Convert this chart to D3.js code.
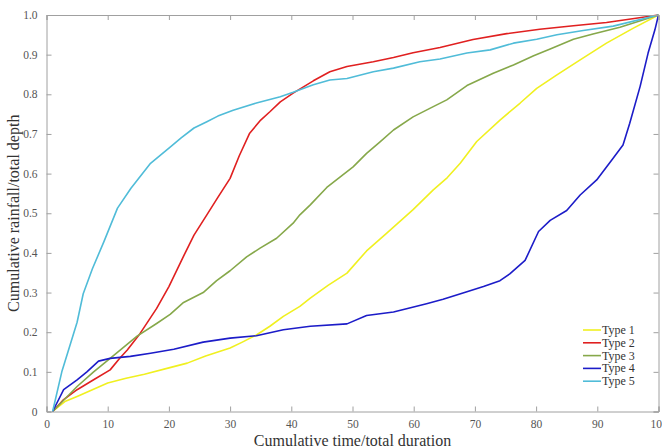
<!DOCTYPE html>
<html>
<head>
<meta charset="utf-8">
<script src="https://cdn.jsdelivr.net/npm/d3@7"></script>
<style>
  html, body { margin: 0; padding: 0; background: #fff; }
  svg { display: block; }
</style>
</head>
<body>
<svg id="chart" width="662" height="448"></svg>
<script>
const seriesNames = ["Type 1", "Type 2", "Type 3", "Type 4", "Type 5"];
const seriesColors = ["#f0f020", "#e02020", "#86a84a", "#1c1cc8", "#50bcd8"];

const type1 = [[1,0],[3,0.025],[5,0.038],[7.5,0.055],[10,0.072],[13,0.084],[16,0.094],[20,0.11],[23,0.122],[26,0.14],[30,0.16],[32,0.175],[34.3,0.193],[36.5,0.215],[38.7,0.24],[41.4,0.265],[43.1,0.286],[46,0.318],[49.1,0.349],[52.3,0.405],[55.6,0.45],[59.9,0.509],[63.2,0.559],[65.5,0.59],[67.6,0.626],[70.3,0.681],[74.1,0.735],[77.4,0.778],[80.1,0.815],[83.4,0.849],[87.2,0.887],[91.5,0.929],[95.9,0.967],[100,1]];
const type2 = [[1,0],[2.8,0.03],[5,0.055],[7.7,0.08],[10.4,0.105],[12,0.135],[13.2,0.155],[15.3,0.197],[18,0.26],[20,0.315],[22.5,0.395],[24.1,0.445],[26.2,0.496],[28,0.54],[30,0.588],[31.5,0.645],[33.2,0.702],[35,0.735],[36.5,0.756],[38.2,0.781],[40.3,0.803],[43.6,0.834],[46.3,0.857],[49.1,0.87],[53.4,0.882],[56.7,0.893],[59.9,0.905],[64.3,0.918],[69.7,0.938],[75.2,0.953],[80.6,0.964],[86.1,0.973],[91.5,0.981],[100,1]];
const type3 = [[1,0],[5,0.063],[7.7,0.1],[10.4,0.134],[14.8,0.19],[18,0.222],[20.2,0.245],[22.4,0.275],[25.6,0.3],[27.8,0.33],[30,0.355],[32.7,0.39],[34.9,0.412],[37.6,0.437],[40.3,0.475],[41.4,0.496],[43.1,0.521],[45.8,0.565],[48,0.592],[50.1,0.617],[52.3,0.651],[54.5,0.68],[56.7,0.71],[59.9,0.743],[63.2,0.769],[65.4,0.786],[68.7,0.822],[73,0.853],[76.3,0.874],[79.6,0.897],[82.3,0.914],[86.1,0.939],[89.3,0.952],[93.7,0.969],[100,1]];
const type4 = [[1,0],[2.8,0.055],[5,0.08],[6.6,0.1],[8.5,0.127],[10.4,0.134],[13.7,0.139],[17,0.147],[20.8,0.157],[25.6,0.175],[30,0.185],[34.3,0.191],[38.7,0.206],[43.1,0.215],[49.1,0.221],[52.3,0.242],[56.7,0.251],[62.1,0.272],[64.8,0.283],[68.7,0.302],[71.4,0.315],[74.1,0.33],[75.7,0.347],[78.2,0.381],[80.4,0.454],[82.3,0.482],[85,0.507],[87.2,0.546],[89.9,0.584],[92.4,0.635],[94.2,0.672],[95.3,0.727],[97,0.82],[98.3,0.904],[99.4,0.962],[100,1]];
const type5 = [[1,0],[2.5,0.1],[3.5,0.15],[5,0.225],[6,0.297],[7.5,0.36],[9.4,0.429],[11.6,0.513],[13.8,0.563],[17,0.626],[20.3,0.668],[22,0.69],[24.1,0.715],[26.2,0.731],[28,0.745],[30.5,0.76],[34.3,0.778],[38.2,0.794],[40.3,0.805],[43.6,0.824],[46.3,0.836],[49.1,0.84],[53.4,0.857],[56.7,0.866],[61,0.882],[64.3,0.889],[68.7,0.904],[72.5,0.912],[76.3,0.929],[80.1,0.939],[83.4,0.95],[87.7,0.961],[92.6,0.972],[100,1]];

const xTicks = [0,10,20,30,40,50,60,70,80,90,100];
const yTicks = [0,0.1,0.2,0.3,0.4,0.5,0.6,0.7,0.8,0.9,1.0];
const xTitle = "Cumulative time/total duration";
const yTitle = "Cumulative rainfall/total depth";

const allSeries = [type1, type2, type3, type4, type5];

const svg = d3.select("#chart");
const margin = {left: 46.5, right: 662 - 658.5, top: 15, bottom: 448 - 411.5};
const W = 662, H = 448;
const x = d3.scaleLinear().domain([0, 100]).range([margin.left, W - margin.right]);
const y = d3.scaleLinear().domain([0, 1]).range([H - margin.bottom, margin.top]);

const axisColor = "#a0a0a0";
const font = "'Liberation Serif', 'Times New Roman', serif";

// lines
const line = d3.line().x(d => x(d[0])).y(d => y(d[1]));
const gLines = svg.append("g");
allSeries.forEach((s, i) => {
  gLines.append("path")
    .datum(s)
    .attr("fill", "none")
    .attr("stroke", seriesColors[i])
    .attr("stroke-width", 1.6)
    .attr("stroke-linejoin", "round")
    .attr("d", line);
});

// axes
function styleAxis(g) {
  g.select(".domain").attr("stroke", axisColor);
  g.selectAll(".tick line").attr("stroke", axisColor);
  g.selectAll(".tick text").attr("fill", "#555").attr("font-family", font).attr("font-size", 11.5);
}
const xAxis = svg.append("g")
  .attr("transform", `translate(0,${y(0)})`)
  .call(d3.axisBottom(x).tickValues(xTicks).tickSize(-5).tickPadding(8).tickFormat(d3.format("d")));
styleAxis(xAxis);
const yAxis = svg.append("g")
  .attr("transform", `translate(${x(0)},0)`)
  .call(d3.axisLeft(y).tickValues(yTicks).tickSize(-5).tickPadding(9)
    .tickFormat(d => d === 0 ? "0" : d3.format(".1f")(d)));
styleAxis(yAxis);
const xTop = svg.append("g")
  .attr("transform", `translate(0,${y(1)})`)
  .call(d3.axisTop(x).tickValues(xTicks).tickSize(-5).tickFormat(""));
styleAxis(xTop);
const yRight = svg.append("g")
  .attr("transform", `translate(${x(100)},0)`)
  .call(d3.axisRight(y).tickValues(yTicks).tickSize(-5).tickFormat(""));
styleAxis(yRight);

// titles
svg.append("text")
  .attr("x", (x(0) + x(100)) / 2)
  .attr("y", 446)
  .attr("text-anchor", "middle")
  .attr("font-family", font)
  .attr("font-size", 16)
  .attr("fill", "#333")
  .text(xTitle);
svg.append("text")
  .attr("transform", `translate(19,${(y(0) + y(1)) / 2}) rotate(-90)`)
  .attr("text-anchor", "middle")
  .attr("font-family", font)
  .attr("font-size", 16)
  .attr("fill", "#333")
  .text(yTitle);

// legend
const legend = svg.append("g");
seriesNames.forEach((name, i) => {
  const ly = 330 + i * 12.8;
  legend.append("line")
    .attr("x1", 583).attr("x2", 601)
    .attr("y1", ly).attr("y2", ly)
    .attr("stroke", seriesColors[i]).attr("stroke-width", 1.6);
  legend.append("text")
    .attr("x", 602).attr("y", ly + 4)
    .attr("font-family", font).attr("font-size", 12)
    .attr("fill", "#333")
    .text(name);
});
</script>
</body>
</html>
